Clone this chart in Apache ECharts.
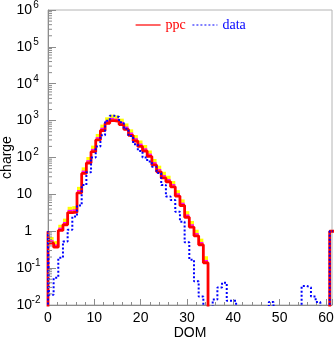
<!DOCTYPE html>
<html><head><meta charset="utf-8">
<script src="https://cdn.jsdelivr.net/npm/echarts@6/dist/echarts.min.js"></script>
<style>html,body{margin:0;padding:0;background:#fff}#c{width:335px;height:342px}</style>
</head><body><div id="c"></div>
<script>
// Histogram bins: bin k spans [binStart + binWidth*k, binStart + binWidth*(k+1)]
const binStart = 0.2, binWidth = 1.01;
const edgeValue = 1; // narrow first bin [0, binStart]

// ppc (red) per bin k = 0..60 (0 = empty)
const ppc = [0.48, 0.37, 1.05, 1.5, 3.2, 3.3, 11, 37, 71, 144,
  300, 540, 850, 1000, 950, 780, 580, 400, 280, 200,
  150, 107, 63, 41, 28, 22, 16, 9, 5, 2.4,
  1.3, 0.75, 0.43, 0.14, 0, 0, 0, 0, 0, 0,
  0, 0, 0, 0, 0, 0, 0, 0, 0, 0,
  0, 0, 0, 0, 0, 0, 0, 0, 0, 0,
  1];
// upper edge of ppc uncertainty band (yellow)
const ppcUp = [0.7, 0.54, 1.5, 2.2, 4.6, 4.8, 16, 54, 103, 210,
  435, 780, 1230, 1450, 1380, 1130, 840, 580, 405, 290,
  218, 155, 91, 60, 41, 32, 23, 13, 7.3, 3.5,
  1.9, 1.1, 0.63, 0.21];
// data (blue dotted) per bin k = 0..60
const dataVals = [0.019, 0.055, 0.19, 0.53, 1.1, 2.5, 5, 18, 40, 100,
  200, 400, 1000, 1350, 1250, 900, 600, 380, 230, 150,
  100, 78, 56, 38, 18, 8.7, 7, 3.4, 1.8, 0.5,
  0.17, 0.044, 0.017, 0, 0, 0.014, 0.03, 0.04, 0.013, 0.013,
  0, 0, 0, 0, 0, 0, 0, 0.012, 0, 0,
  0, 0, 0, 0, 0.033, 0.03, 0.017, 0.012, 0, 0,
  1];
const minorMult = [2, 3, 4, 5, 6, 7, 8, 9];
const decades = [-2, -1, 0, 1, 2, 3, 4, 5];

const EMPTY = 1e-6;
function stepPoints(vals) {
  const pts = [[0, EMPTY], [0, edgeValue]];
  vals.forEach((v, k) => pts.push([binStart + binWidth * k, v > 0 ? v : EMPTY]));
  const n = vals.length;
  pts.push([binStart + binWidth * n, vals[n - 1] > 0 ? vals[n - 1] : EMPTY]);
  return pts;
}
const bandData = [];
ppcUp.forEach((u, k) => { if (ppc[k] > 0) bandData.push([k, ppc[k], u]); });
const minorData = [];
decades.forEach(e => minorMult.forEach(m => minorData.push([0, m * Math.pow(10, e)])));

const chart = echarts.init(document.getElementById('c'), null, {renderer: 'canvas'});
const axisGray = '#8c8c8c';
chart.setOption({
  animation: false,
  backgroundColor: '#fff',
  grid: {left: 48, right: 3, top: 10, bottom: 37, show: true, borderColor: '#b4b4b4', borderWidth: 1,
    containLabel: false, outerBoundsMode: 'none'},
  legend: {
    left: 130, top: 13, itemWidth: 25, itemHeight: 14, itemGap: 6,
    textStyle: {fontFamily: 'Liberation Serif', fontSize: 14},
    data: [
      {name: 'ppc', textStyle: {color: '#ff0000'}, itemStyle: {opacity: 0}, lineStyle: {width: 1.2}},
      {name: 'data', textStyle: {color: '#0000ff'}, itemStyle: {opacity: 0}, lineStyle: {width: 1.2}}
    ]
  },
  xAxis: {
    type: 'value', min: 0, max: 61.3, interval: 10,
    axisLine: {show: true, lineStyle: {color: axisGray}},
    axisTick: {show: true, inside: true, length: 6, lineStyle: {color: axisGray}},
    minorTick: {show: true, splitNumber: 5, length: 3, lineStyle: {color: axisGray}},
    splitLine: {show: false}, minorSplitLine: {show: false},
    axisLabel: {margin: 6, color: '#000', fontSize: 14, fontFamily: 'Liberation Sans', showMaxLabel: false,
      formatter: v => (v % 10 === 0 ? String(v) : '')},
    name: 'DOM', nameLocation: 'middle', nameGap: 21, nameMoveOverlap: false,
    nameTextStyle: {color: '#000', fontSize: 14, fontFamily: 'Liberation Sans'}
  },
  yAxis: {
    type: 'log', logBase: 10, min: 0.01, max: 1e6, splitNumber: 8,
    axisLine: {show: true, lineStyle: {color: axisGray}},
    axisTick: {show: true, inside: true, length: 8, lineStyle: {color: axisGray}},
    splitLine: {show: false},
    axisLabel: {
      margin: 8, color: '#000',
      formatter: v => {
        const e = Math.round(Math.log10(v));
        if (e === 0) return '{b|1}{s|}';
        if (e === 1) return '{b|10}{s|}';
        return '{b|10}{s|' + e + '}';
      },
      rich: {
        b: {fontSize: 14, fontFamily: 'Liberation Sans', color: '#000', lineHeight: 20},
        s: {fontSize: 10, fontFamily: 'Liberation Sans', color: '#000', width: 8, align: 'left', verticalAlign: 'top', lineHeight: 10}
      }
    },
    name: 'charge', nameLocation: 'middle', nameGap: 34, nameMoveOverlap: false,
    nameTextStyle: {color: '#000', fontSize: 14, fontFamily: 'Liberation Sans'}
  },
  series: [
    {
      name: 'band', type: 'custom', silent: true, z: 1,
      encode: {x: 0, y: [1, 2]},
      renderItem: (params, api) => {
        const k = api.value(0), lo = api.value(1), hi = api.value(2);
        const x0 = binStart + binWidth * k, x1 = x0 + binWidth;
        const p0 = api.coord([x0, hi]), p1 = api.coord([x1, lo]);
        return {type: 'group', children: [
          {type: 'rect', shape: {x: p0[0], y: p0[1], width: p1[0] - p0[0], height: p1[1] - p0[1]}, style: {fill: '#ffff00'}},
          {type: 'line', shape: {x1: p0[0], y1: p1[1] - 2, x2: p1[0], y2: p1[1] - 2}, style: {stroke: '#ff00ff', lineWidth: 1.6}}
        ]};
      },
      data: bandData
    },
    {
      name: 'ppc', type: 'line', step: 'end', showSymbol: false, symbol: 'none', z: 3,
      lineStyle: {color: '#ff0000', width: 2.8}, itemStyle: {color: '#ff0000'},
      data: stepPoints(ppc)
    },
    {
      name: 'data', type: 'line', step: 'end', showSymbol: false, symbol: 'none', z: 4,
      lineStyle: {color: '#0000ff', width: 2, type: [2, 2]}, itemStyle: {color: '#0000ff'},
      data: stepPoints(dataVals)
    },
    {
      name: 'minorY', type: 'custom', silent: true, z: 5,
      encode: {x: 0, y: 1},
      renderItem: (params, api) => {
        const p = api.coord([0, api.value(1)]);
        return {type: 'line', shape: {x1: p[0], y1: p[1], x2: p[0] + 4, y2: p[1]}, style: {stroke: axisGray, lineWidth: 1}};
      },
      data: minorData
    }
  ]
});
</script>
</body></html>
